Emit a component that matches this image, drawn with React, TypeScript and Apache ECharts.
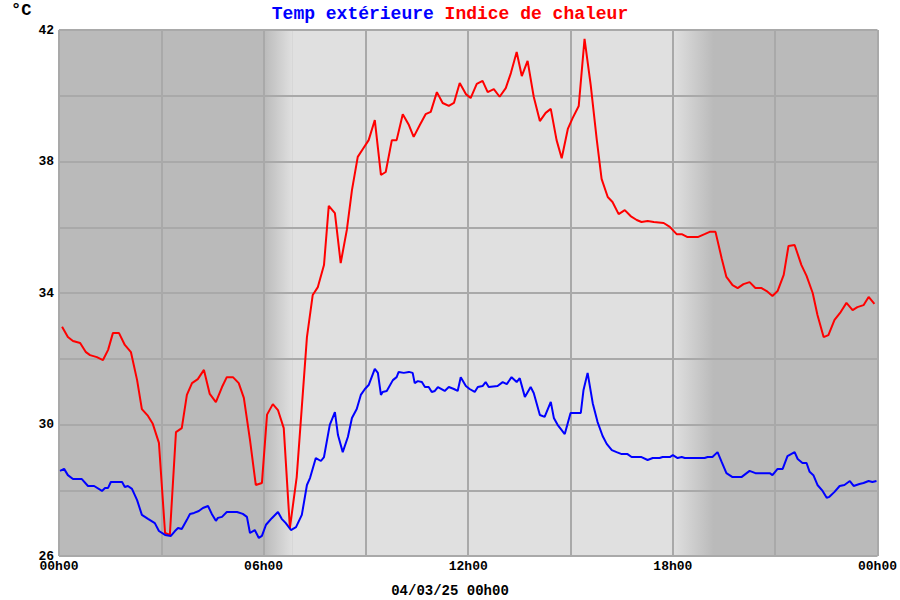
import React, { useEffect, useRef } from "react";
import * as echarts from "echarts";

// Hours since 00h00 and Indice de chaleur (°C)
const heatTimes = [
  0.09, 0.26, 0.41, 0.62, 0.79, 0.91, 1.11, 1.29, 1.44, 1.58, 1.76, 1.93, 2.11, 2.29, 2.43, 2.61, 2.75, 2.93,
  3.11, 3.25, 3.43, 3.6, 3.75, 3.9, 4.07, 4.25, 4.42, 4.6, 4.78, 4.92, 5.1, 5.27, 5.42, 5.6, 5.77, 5.95,
  6.1, 6.27, 6.42, 6.59, 6.77, 6.97, 7.12, 7.27, 7.44, 7.59, 7.77, 7.91, 8.09, 8.26, 8.44, 8.59, 8.76, 8.91,
  9.08, 9.26, 9.44, 9.58, 9.76, 9.9, 10.08, 10.26, 10.4, 10.58, 10.75, 10.9, 11.08, 11.25, 11.43, 11.58, 11.75, 11.93,
  12.07, 12.25, 12.42, 12.57, 12.75, 12.92, 13.1, 13.25, 13.42, 13.57, 13.74, 13.92, 14.1, 14.27, 14.42, 14.59, 14.74, 14.92,
  15.06, 15.24, 15.41, 15.59, 15.77, 15.91, 16.09, 16.23, 16.41, 16.59, 16.76, 16.94, 17.08, 17.26, 17.44, 17.73, 17.91,
  18.11, 18.26, 18.43, 18.73, 18.93, 19.08, 19.25, 19.43, 19.57, 19.75, 19.9, 20.07, 20.25, 20.42, 20.6, 20.75, 20.92,
  21.07, 21.25, 21.39, 21.57, 21.77, 21.92, 22.1, 22.24, 22.42, 22.56, 22.74, 22.92, 23.09, 23.27, 23.41, 23.59, 23.74, 23.91,
];
const heatValues = [
  32.97, 32.66, 32.54, 32.48, 32.2, 32.11, 32.05, 31.96, 32.27, 32.78, 32.78, 32.42, 32.2, 31.35, 30.47, 30.26, 30.02, 29.44,
  26.7, 26.64, 29.77, 29.89, 30.9, 31.26, 31.38, 31.66, 30.93, 30.68, 31.14, 31.44, 31.44, 31.26, 30.81, 29.53, 28.16, 28.22,
  30.3, 30.62, 30.44, 29.89, 26.85, 28.4, 30.53, 32.66, 33.94, 34.18, 34.85, 36.65, 36.43, 34.91, 35.92, 37.13, 38.14, 38.38,
  38.65, 39.26, 37.59, 37.68, 38.65, 38.65, 39.44, 39.11, 38.75, 39.11, 39.44, 39.51, 40.11, 39.78, 39.69, 39.78, 40.39, 40.05,
  39.93, 40.36, 40.45, 40.11, 40.2, 39.97, 40.23, 40.69, 41.33, 40.6, 41.06, 39.97, 39.23, 39.48, 39.6, 38.65, 38.1, 38.99,
  39.32, 39.69, 41.73, 40.33, 38.65, 37.47, 36.92, 36.77, 36.4, 36.52, 36.34, 36.22, 36.16, 36.19, 36.16, 36.13, 36.01,
  35.79, 35.79, 35.7, 35.7, 35.79, 35.86, 35.86, 35.06, 34.49, 34.24, 34.15, 34.27, 34.33, 34.15, 34.15, 34.06, 33.91,
  34.06, 34.55, 35.43, 35.46, 34.85, 34.52, 34.0, 33.33, 32.66, 32.72, 33.18, 33.42, 33.7, 33.48, 33.57, 33.63, 33.88, 33.67,
];

// Hours since 00h00 and Temp extérieure (°C)
const tempTimes = [
  0.03, 0.15, 0.26, 0.41, 0.67, 0.85, 1.03, 1.26, 1.35, 1.44, 1.52, 1.85, 1.93, 2.02, 2.14, 2.29, 2.43, 2.61, 2.81, 2.93,
  3.11, 3.28, 3.4, 3.49, 3.6, 3.75, 3.84, 3.96, 4.1, 4.22, 4.37, 4.48, 4.6, 4.66, 4.78, 4.92, 5.22, 5.39, 5.51, 5.6,
  5.74, 5.86, 5.95, 6.07, 6.24, 6.42, 6.53, 6.65, 6.8, 6.95, 7.12, 7.27, 7.36, 7.53, 7.68, 7.77, 7.94, 8.09, 8.18, 8.32,
  8.47, 8.59, 8.73, 8.85, 8.97, 9.08, 9.26, 9.35, 9.44, 9.49, 9.61, 9.79, 9.9, 9.96, 10.11, 10.26, 10.37, 10.43, 10.52, 10.64,
  10.73, 10.84, 10.93, 11.02, 11.11, 11.31, 11.43, 11.58, 11.69, 11.78, 11.93, 12.04, 12.19, 12.28, 12.42, 12.51, 12.6, 12.86,
  13.01, 13.13, 13.27, 13.42, 13.51, 13.66, 13.83, 13.92, 14.1, 14.24, 14.42, 14.51, 14.62, 14.83, 15.0, 15.3, 15.38, 15.5,
  15.65, 15.79, 15.94, 16.06, 16.21, 16.35, 16.5, 16.67, 16.79, 17.08, 17.26, 17.41, 17.61, 17.7, 17.91, 18.0, 18.14, 18.26,
  18.35, 18.93, 19.02, 19.16, 19.31, 19.43, 19.57, 19.75, 20.01, 20.25, 20.42, 20.84, 20.92, 21.07, 21.22, 21.36, 21.57, 21.66,
  21.8, 21.92, 22.01, 22.12, 22.24, 22.39, 22.51, 22.59, 22.74, 22.89, 23.03, 23.19, 23.3, 23.47, 23.59, 23.74, 23.85, 23.97,
];
const tempValues = [
  28.59, 28.65, 28.46, 28.34, 28.34, 28.13, 28.13, 27.98, 28.07, 28.07, 28.25, 28.25, 28.1, 28.13, 28.04, 27.7, 27.25, 27.13, 27.0, 26.76,
  26.64, 26.61, 26.76, 26.85, 26.82, 27.1, 27.28, 27.31, 27.37, 27.46, 27.52, 27.28, 27.07, 27.16, 27.19, 27.34, 27.34, 27.28, 27.19, 26.7,
  26.79, 26.55, 26.61, 26.95, 27.15, 27.34, 27.13, 27.0, 26.79, 26.88, 27.25, 28.16, 28.37, 28.98, 28.89, 29.01, 29.99, 30.38, 29.68, 29.16,
  29.62, 30.2, 30.47, 30.9, 31.08, 31.2, 31.69, 31.57, 30.9, 30.99, 31.02, 31.35, 31.44, 31.6, 31.57, 31.6, 31.57, 31.26, 31.32, 31.29,
  31.14, 31.14, 30.99, 31.02, 31.14, 31.02, 31.14, 31.08, 31.02, 31.44, 31.17, 31.08, 30.99, 31.14, 31.17, 31.29, 31.14, 31.17,
  31.29, 31.23, 31.44, 31.29, 31.41, 30.84, 31.14, 30.96, 30.29, 30.23, 30.69, 30.2, 29.99, 29.71, 30.35, 30.35, 31.05, 31.57,
  30.65, 30.08, 29.65, 29.41, 29.22, 29.16, 29.1, 29.1, 29.01, 29.01, 28.92, 28.98, 28.98, 29.01, 29.01, 29.07, 28.98, 29.01,
  28.98, 28.98, 29.01, 29.01, 29.16, 28.86, 28.52, 28.4, 28.4, 28.59, 28.52, 28.52, 28.46, 28.65, 28.65, 29.04, 29.16, 28.95,
  28.83, 28.83, 28.56, 28.46, 28.16, 27.98, 27.77, 27.8, 27.95, 28.13, 28.16, 28.28, 28.13, 28.19, 28.22, 28.28, 28.25, 28.28,
];

const xTickValues = [0, 6, 12, 18, 24];
const xTickLabels = ["00h00", "06h00", "12h00", "18h00", "00h00"];
const yLabelValues = [26, 30, 34, 38, 42];
const dateLabel = "04/03/25 00h00";
const seriesNames = ["Temp extérieure", "Indice de chaleur"];

const NIGHT = "#bababa";
const DAY = "#e0e0e0";
const MONO = "'Liberation Mono', 'DejaVu Sans Mono', monospace";

export default function App() {
  const ref = useRef<HTMLDivElement>(null);

  useEffect(() => {
    if (!ref.current) return;
    const chart = echarts.init(ref.current, null, { renderer: "svg" });
    const heatData = heatTimes.map((t, i) => [t, heatValues[i]]);
    const tempData = tempTimes.map((t, i) => [t, tempValues[i]]);

    const grad = (from: string, to: string) =>
      new echarts.graphic.LinearGradient(0, 0, 1, 0, [
        { offset: 0, color: from },
        { offset: 1, color: to },
      ]);

    chart.setOption({
      animation: false,
      title: {
        text: `{b|${seriesNames[0]}} {r|${seriesNames[1]}}`,
        left: "center",
        top: 0,
        textStyle: {
          fontFamily: MONO,
          fontSize: 18,
          fontWeight: "bold",
          rich: {
            b: { color: "#0000ff", fontFamily: MONO, fontSize: 18, fontWeight: "bold" },
            r: { color: "#ff0000", fontFamily: MONO, fontSize: 18, fontWeight: "bold" },
          },
        },
      },
      graphic: [
        {
          type: "text",
          left: 11,
          top: 2,
          style: { text: "°C", fill: "#000", font: `bold 17px ${MONO}` },
        },
        {
          type: "text",
          x: 450,
          y: 591,
          style: {
            text: dateLabel,
            fill: "#000",
            font: `bold 14px ${MONO}`,
            textAlign: "center",
            textVerticalAlign: "middle",
          },
        },
      ],
      grid: {
        left: 59,
        top: 30,
        right: 22,
        bottom: 44,
        show: true,
        backgroundColor: NIGHT,
        borderWidth: 0,
      },
      xAxis: {
        type: "value",
        min: 0,
        max: 24,
        interval: 3,
        z: 2,
        axisLine: { show: false },
        axisTick: { show: false },
        splitLine: { show: true, lineStyle: { color: "#a9a9a9", width: 2 } },
        axisLabel: {
          showMinLabel: true,
          showMaxLabel: true,
          margin: 4,
          color: "#000",
          fontFamily: MONO,
          fontWeight: "bold",
          fontSize: 13,
          formatter: (v: number) => {
            const i = xTickValues.indexOf(v);
            return i >= 0 ? xTickLabels[i] : "";
          },
        },
      },
      yAxis: {
        type: "value",
        min: 26,
        max: 42,
        interval: 2,
        z: 2,
        axisLine: { show: false },
        axisTick: { show: false },
        splitLine: { show: true, lineStyle: { color: "#a9a9a9", width: 2 } },
        axisLabel: {
          margin: 5,
          color: "#000",
          fontFamily: MONO,
          fontWeight: "bold",
          fontSize: 13,
          formatter: (v: number) => (yLabelValues.indexOf(v) >= 0 ? String(v) : ""),
        },
      },
      series: [
        {
          name: seriesNames[1],
          type: "line",
          z: 3,
          data: heatData,
          showSymbol: false,
          lineStyle: { color: "#ff0000", width: 2 },
          itemStyle: { color: "#ff0000" },
          markArea: {
            silent: true,
            z: 1,
            data: [
              [{ xAxis: 6, itemStyle: { color: grad(NIGHT, DAY) } }, { xAxis: 6.85 }],
              [{ xAxis: 6.85, itemStyle: { color: DAY } }, { xAxis: 18 }],
              [{ xAxis: 18, itemStyle: { color: grad(DAY, NIGHT) } }, { xAxis: 19.2 }],
            ],
          },
        },
        {
          name: seriesNames[0],
          type: "line",
          z: 4,
          data: tempData,
          showSymbol: false,
          lineStyle: { color: "#0000ff", width: 2 },
          itemStyle: { color: "#0000ff" },
        },
      ],
    });
    return () => chart.dispose();
  }, []);

  return (
    <div
      ref={ref}
      style={{ position: "fixed", left: 0, top: 0, width: 900, height: 600, background: "#fff" }}
    />
  );
}
